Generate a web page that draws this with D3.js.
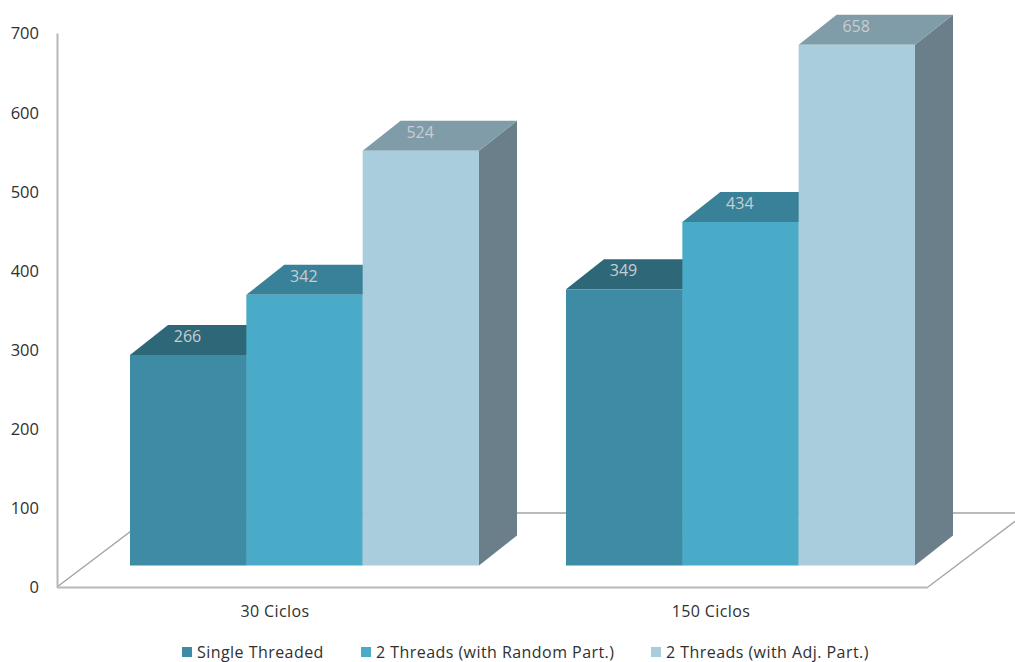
<!doctype html>
<html lang="">

<head>
    <meta charset="utf-8">
    <title>Ciclos por configuracao</title>
    <style type="text/css">
        body {
            margin: 0;
            background: #fff;
        }

        svg {
            display: block;
        }

        text {
            font-family: "Open Sans", sans-serif;
            fill: #303030;
        }
    </style>
</head>

<body>
    <script src="https://cdnjs.cloudflare.com/ajax/libs/d3/7.8.5/d3.min.js"></script>
    <div id="container"></div>
    <script>
        var categories = ["30 Ciclos", "150 Ciclos"];
        var seriesNames = ["Single Threaded", "2 Threads (with Random Part.)", "2 Threads (with Adj. Part.)"];
        var singleThreaded = [266, 349];
        var randomPart = [342, 434];
        var adjPart = [524, 658];
        var yTicks = [0, 100, 200, 300, 400, 500, 600, 700];

        var frontColors = ["#3e8ba5", "#49abc8", "#a9cddc"];
        var topColors = ["#2e6878", "#388198", "#7f9ca8"];
        var sideColors = ["#2b5d6c", "#33748a", "#6a7f8a"];

        var width = 1015, height = 662;
        var allValues = [singleThreaded, randomPart, adjPart];

        // bars stand a little in front of the axis plane, and have a fixed oblique depth
        var depthX = 38, depthY = 30;
        var floorX = 98, floorY = 74;
        var barLift = 21.5;
        var groupInset = 73, groupWidth = 349;

        var svg = d3.select("#container")
            .append("svg")
            .attr("width", width)
            .attr("height", height);

        var y = d3.scaleLinear().domain([0, 700]).range([587, 33]);
        var x0 = d3.scaleBand().domain(categories).range([57, 929]);
        var x1 = d3.scaleBand().domain(d3.range(seriesNames.length)).range([0, groupWidth]);

        // floor of the chart
        var floor = svg.append("g")
            .attr("fill", "none")
            .attr("stroke", "#a4a4a4")
            .attr("stroke-width", 1.4);
        var y0 = y(0);
        floor.append("path")
            .attr("d", d3.line()([[57, y0], [57 + floorX, y0 - floorY], [width, y0 - floorY]]));
        floor.append("path")
            .attr("d", d3.line()([[928, y0], [928 + floorX, y0 - floorY]]));
        floor.append("path")
            .attr("d", d3.line()([[57, y0 + 0.5], [928, y0 + 0.5]]))
            .attr("stroke", "#b8b8b8")
            .attr("stroke-width", 2);

        var yAxis = svg.append("g")
            .attr("transform", "translate(57,0)")
            .call(d3.axisLeft(y).tickValues(yTicks).tickSize(0).tickPadding(18));
        yAxis.select(".domain")
            .attr("stroke", "#b8b8b8")
            .attr("stroke-width", 2);
        yAxis.selectAll("text")
            .attr("font-family", null)
            .attr("dy", "0.36em")
            .style("font-size", "16.5px");

        var xAxis = svg.append("g")
            .attr("transform", "translate(0,611)")
            .call(d3.axisBottom(x0).tickSize(0).tickPadding(0));
        xAxis.select(".domain").remove();
        xAxis.selectAll("text")
            .attr("y", 0)
            .attr("dy", "0.35em")
            .attr("font-family", null)
            .style("font-size", "16px")
            .style("letter-spacing", "0.4px");

        // draw left to right so each bar covers the side of the one before it
        categories.forEach(function (cat, c) {
            allValues.forEach(function (values, s) {
                var left = x0(cat) + groupInset + x1(s);
                var right = left + x1.bandwidth();
                var base = y0 - barLift;
                var top = base - (y0 - y(values[c]));
                var bar = svg.append("g");

                bar.append("path")
                    .attr("fill", sideColors[s])
                    .attr("d", d3.line()([[right, top], [right + depthX, top - depthY], [right + depthX, base - depthY], [right, base]]) + "Z");
                bar.append("path")
                    .attr("fill", topColors[s])
                    .attr("d", d3.line()([[left, top], [left + depthX, top - depthY], [right + depthX, top - depthY], [right, top]]) + "Z");
                bar.append("rect")
                    .attr("x", left)
                    .attr("y", top)
                    .attr("width", right - left)
                    .attr("height", base - top)
                    .attr("fill", frontColors[s]);
                bar.append("text")
                    .attr("x", left + 57.5)
                    .attr("y", top - 18.5)
                    .attr("dy", "0.35em")
                    .attr("text-anchor", "middle")
                    .style("fill", "#c9cdcf")
                    .style("font-size", "16px")
                    .text(values[c]);
            });
        });

        var legendX = [182, 361, 651];
        var legend = svg.selectAll(".legend")
            .data(seriesNames)
            .enter()
            .append("g")
            .attr("class", "legend")
            .attr("transform", function (d, i) { return "translate(" + legendX[i] + ",652)"; });
        legend.append("rect")
            .attr("y", -5)
            .attr("width", 10)
            .attr("height", 10)
            .attr("fill", function (d, i) { return frontColors[i]; });
        legend.append("text")
            .attr("x", 15)
            .attr("dy", "0.35em")
            .style("font-size", "16px")
            .style("letter-spacing", "0.45px")
            .text(function (d) { return d; });
    </script>
</body>

</html>
